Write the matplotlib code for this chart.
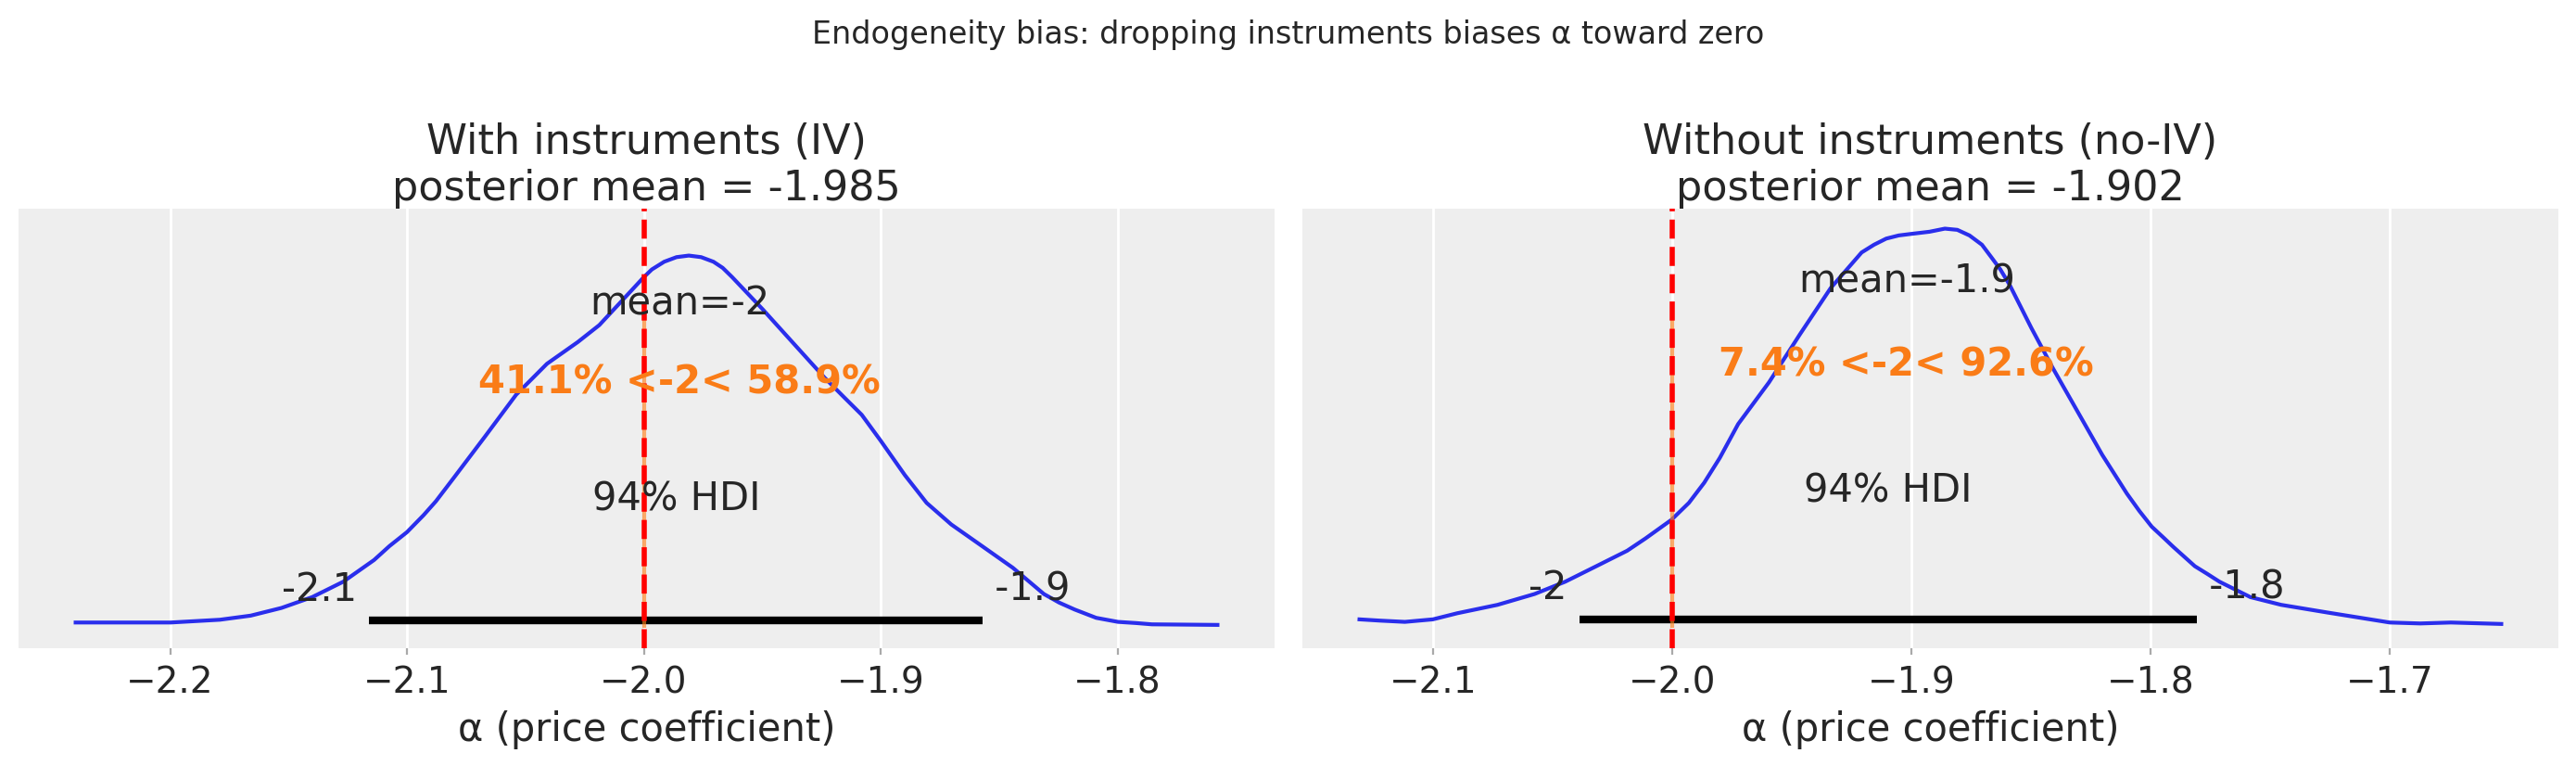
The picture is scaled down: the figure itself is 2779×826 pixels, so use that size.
import matplotlib
matplotlib.use("Agg")
import matplotlib.pyplot as plt

# ---------------- data ----------------
iv_x = [-2.2399, -2.2200, -2.1998, -2.1790, -2.1660, -2.1530, -2.1400, -2.1269,
        -2.1139, -2.1074, -2.1000, -2.0930, -2.0878, -2.0800, -2.0670, -2.0539,
        -2.0409, -2.0279, -2.0188, -2.0097, -2.0000, -1.9966, -1.9914, -1.9862,
        -1.9810, -1.9758, -1.9706, -1.9667, -1.9627, -1.9497, -1.9367, -1.9237,
        -1.9158, -1.9080, -1.8999, -1.8898, -1.8806, -1.8702, -1.8572, -1.8442,
        -1.8311, -1.8246, -1.8181, -1.8090, -1.7998, -1.7920, -1.7855, -1.7578]
iv_density = [0.091, 0.091, 0.091, 0.135, 0.200, 0.322, 0.494, 0.738,
              1.082, 1.303, 1.524, 1.793, 2.013, 2.397, 3.043, 3.704,
              4.194, 4.538, 4.807, 5.175, 5.568, 5.690, 5.812, 5.885,
              5.910, 5.885, 5.812, 5.715, 5.568, 5.053, 4.513, 3.974,
              3.676, 3.385, 2.969, 2.429, 1.988, 1.646, 1.303, 0.959,
              0.543, 0.406, 0.297, 0.165, 0.101, 0.082, 0.062, 0.053]

noiv_x = [-2.1307, -2.1221, -2.1117, -2.1000, -2.0898, -2.0730, -2.0575, -2.0447,
          -2.0317, -2.0188, -2.0111, -2.0003, -1.9930, -1.9866, -1.9801, -1.9724,
          -1.9595, -1.9466, -1.9337, -1.9208, -1.9156, -1.9105, -1.9053, -1.9002,
          -1.8924, -1.8860, -1.8808, -1.8757, -1.8705, -1.8666, -1.8628, -1.8589,
          -1.8498, -1.8408, -1.8305, -1.8202, -1.8099, -1.8047, -1.7995, -1.7944,
          -1.7905, -1.7815, -1.7763, -1.7712, -1.7583, -1.7454, -1.7260, -1.7000,
          -1.6873, -1.6745, -1.6534]
noiv_density = [0.141, 0.121, 0.101, 0.141, 0.238, 0.371, 0.543, 0.738,
                0.984, 1.229, 1.425, 1.719, 1.988, 2.307, 2.700, 3.238,
                3.900, 4.660, 5.396, 5.959, 6.082, 6.179, 6.229, 6.253,
                6.288, 6.337, 6.318, 6.229, 6.082, 5.885, 5.690, 5.444,
                4.759, 4.121, 3.435, 2.749, 2.135, 1.860, 1.610, 1.430,
                1.290, 0.984, 0.862, 0.738, 0.494, 0.371, 0.249, 0.091,
                0.076, 0.091, 0.068]

panel_titles = ["With instruments (IV)\nposterior mean = -1.985",
                "Without instruments (no-IV)\nposterior mean = -1.902"]
post_means = [-1.985, -1.902]
mean_labels = ["mean=-2", "mean=-1.9"]
hdi_low = [-2.1159, -2.0389]
hdi_high = [-1.8568, -1.7805]
hdi_low_labels = ["-2.1", "-2"]
hdi_high_labels = ["-1.9", "-1.8"]
hdi_label = "94% HDI"
ref_val = -2.0
ref_labels = ["41.1% <-2< 58.9%", "7.4% <-2< 92.6%"]
xlabel = "α (price coefficient)"
suptitle = "Endogeneity bias: dropping instruments biases α toward zero"

# ---------------- style ----------------
BLUE = "#2a2eec"
ORANGE = "#fa7c17"
TXT = "#262626"
TEXT_SIZE = 15

W, H = 2779, 826
fig = plt.figure(figsize=(W / 200, H / 200), dpi=200)
fig.patch.set_facecolor("white")

ax1 = fig.add_axes([20 / W, (H - 699) / H, 1355 / W, 474 / H])
ax2 = fig.add_axes([1405 / W, (H - 699) / H, 1355 / W, 474 / H], sharey=ax1)

panels = [
    (ax1, iv_x, iv_density),
    (ax2, noiv_x, noiv_density),
]

for i, (ax, xs, ds) in enumerate(panels):
    ax.set_facecolor("#eeeeee")
    for sp in ax.spines.values():
        sp.set_visible(False)
    ax.set_axisbelow(True)
    ax.grid(True, axis="x", color="white", linewidth=1.0)
    ax.grid(False, axis="y")

    ax.plot(xs, ds, color=BLUE, linewidth=1.5)
    ax.fill_between(xs, ds, alpha=0)
    ph = ax.get_ylim()[1]

    lo, hi = hdi_low[i], hdi_high[i]
    ax.plot([lo, hi], [ph * 0.02, ph * 0.02], lw=3, color="k",
            solid_capstyle="butt")
    ax.text(lo, ph * 0.07, hdi_low_labels[i] + " ", size=TEXT_SIZE,
            ha="right", color=TXT)
    ax.text(hi, ph * 0.07, " " + hdi_high_labels[i], size=TEXT_SIZE,
            ha="left", color=TXT)
    ax.text((lo + hi) / 2, ph * 0.3, hdi_label, size=TEXT_SIZE,
            ha="center", color=TXT)
    ax.text(post_means[i], ph * 0.8, mean_labels[i], size=TEXT_SIZE,
            ha="center", color=TXT)
    ax.axvline(ref_val, ymin=0.05, ymax=0.75, lw=1.5, alpha=0.65, color=ORANGE)
    ax.text(post_means[i], ph * 0.6, ref_labels[i], size=TEXT_SIZE,
            weight="semibold", ha="center", color=ORANGE)

    ax.axvline(ref_val, color="red", linestyle="--", linewidth=2)

    ax.set_yticks([])
    ax.tick_params(axis="x", labelsize=14, length=2.5, width=0.8,
                   color="#aaaaaa", labelcolor=TXT, pad=4)
    ax.set_xlabel(xlabel, fontsize=15, color=TXT)
    ax.set_title(panel_titles[i], fontsize=16, color=TXT, pad=2)

fig.text(0.5, 1 - 46.7 / H, suptitle, ha="center", va="baseline",
         fontsize=12, color=TXT)

fig.savefig("out.png", dpi=200, facecolor="white")
